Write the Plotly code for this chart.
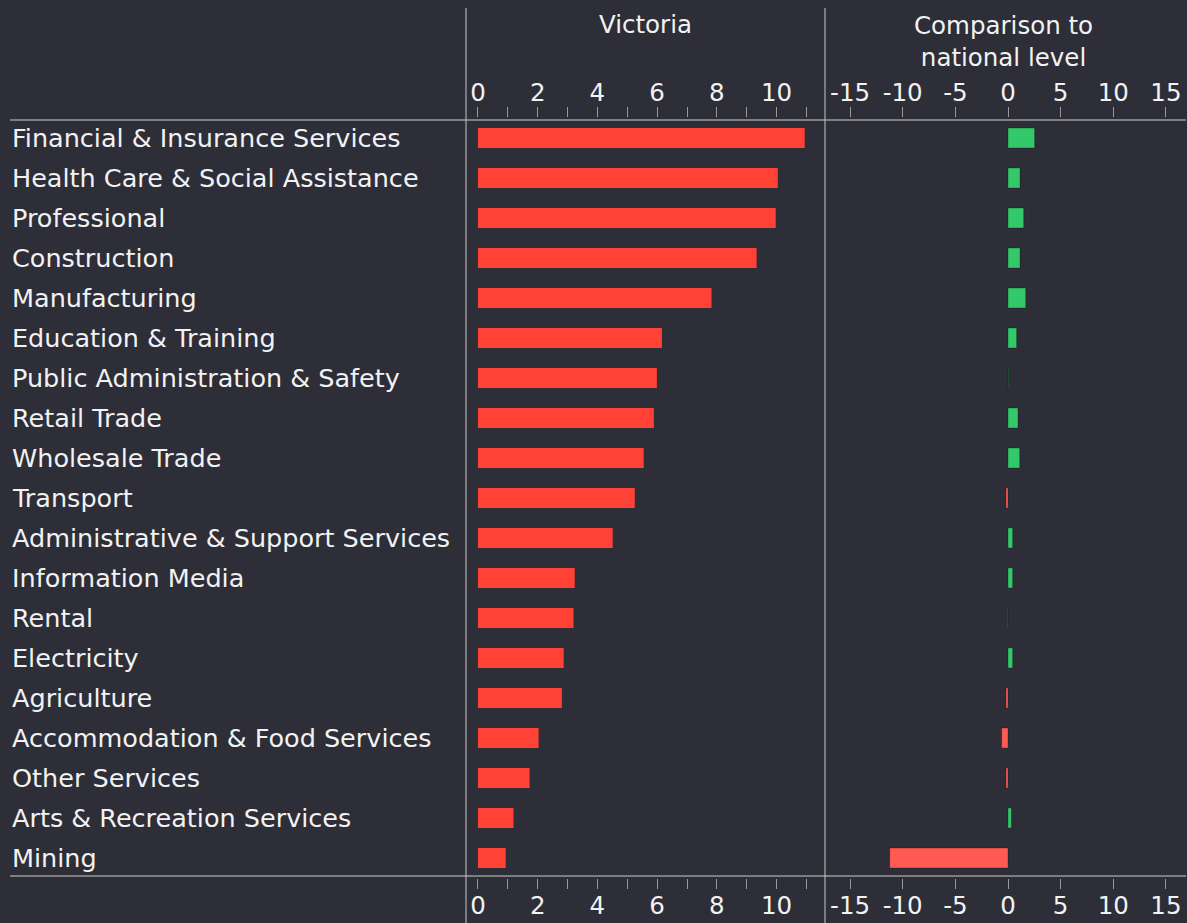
import plotly.graph_objects as go

# industries, top to bottom
industries = [
    "Financial & Insurance Services", "Health Care & Social Assistance", "Professional",
    "Construction", "Manufacturing", "Education & Training",
    "Public Administration & Safety", "Retail Trade", "Wholesale Trade", "Transport",
    "Administrative & Support Services", "Information Media", "Rental", "Electricity",
    "Agriculture", "Accommodation & Food Services", "Other Services",
    "Arts & Recreation Services", "Mining",
]
# share of employment in Victoria (%)
victoria = [10.94, 10.04, 9.97, 9.33, 7.82, 6.16, 5.99, 5.89, 5.55, 5.25,
            4.51, 3.24, 3.20, 2.87, 2.81, 2.03, 1.73, 1.19, 0.93]
# difference to national level (percentage points)
comparison = [2.53, 1.14, 1.49, 1.14, 1.68, 0.82, 0.04, 0.95, 1.11, -0.19,
              0.44, 0.44, -0.05, 0.44, -0.19, -0.6, -0.19, 0.32, -11.23]

left_vals = [0, 2, 4, 6, 8, 10]
left_text = ["0", "2", "4", "6", "8", "10"]
right_vals = [-15, -10, -5, 0, 5, 10, 15]
right_text = ["-15", "-10", "-5", "0", "5", "10", "15"]

BG = "#2d2e38"
TXT = "#f2f2f2"
RED = "#ff4136"
RED2 = "#ff5b52"
GREEN = "#33c96a"
W, H = 1187, 923
FONT = "DejaVu Sans"

def px(x):
    return x / W

def py(y):
    return 1 - y / H

comp_colors = [GREEN if v >= 0 else RED2 for v in comparison]

fig = go.Figure()
fig.add_trace(go.Bar(
    x=victoria, y=industries, orientation="h", width=0.5,
    marker=dict(color=RED, line=dict(width=0)), xaxis="x", yaxis="y",
    hoverinfo="x+y", showlegend=False,
))
fig.add_trace(go.Bar(
    x=comparison, y=industries, orientation="h", width=0.5,
    marker=dict(color=comp_colors, line=dict(color="rgba(0,0,0,0.25)", width=1)),
    xaxis="x2", yaxis="y", hoverinfo="x+y", showlegend=False,
))

tickfont = dict(family=FONT, size=24.5, color=TXT)
left_dom = [px(466), px(825)]
right_dom = [px(825), px(1185)]
left_rng = [-0.4, 11.62]
right_rng = [-17.38, 16.81]

common = dict(showgrid=False, zeroline=False, showline=False, ticks="outside",
              ticklen=10, tickwidth=1, tickcolor="#9a9a9a", tickfont=tickfont,
              ticklabelstandoff=-4, fixedrange=True)
minor = dict(dtick=1, tick0=0, ticks="outside", ticklen=10, tickcolor="#9a9a9a")

fig.update_layout(
    width=W, height=H,
    paper_bgcolor=BG, plot_bgcolor=BG,
    margin=dict(l=0, r=0, t=0, b=0),
    font=dict(family=FONT, color=TXT),
    xaxis=dict(domain=left_dom, range=left_rng, anchor="y", side="bottom",
               tickvals=left_vals, ticktext=left_text, minor=minor, **common),
    xaxis3=dict(domain=left_dom, range=left_rng, anchor="y", side="top",
                overlaying="x", tickvals=left_vals, ticktext=left_text,
                minor=minor, **common),
    xaxis2=dict(domain=right_dom, range=right_rng, anchor="y", side="bottom",
                tickvals=right_vals, ticktext=right_text, **common),
    xaxis4=dict(domain=right_dom, range=right_rng, anchor="y", side="top",
                overlaying="x2", tickvals=right_vals, ticktext=right_text, **common),
    yaxis=dict(domain=[py(878), py(118)], range=[18.5, -0.5], type="category",
               categoryorder="array", categoryarray=industries,
               showticklabels=False, showgrid=False, zeroline=False, fixedrange=True),
)

# dummy traces so the top axes are drawn
fig.add_trace(go.Scatter(x=[None], y=[industries[0]], xaxis="x3", yaxis="y",
                         showlegend=False, hoverinfo="skip"))
fig.add_trace(go.Scatter(x=[None], y=[industries[0]], xaxis="x4", yaxis="y",
                         showlegend=False, hoverinfo="skip"))

# industry labels
for name in industries:
    fig.add_annotation(x=px(10), y=name, xref="paper", yref="y", text=name,
                       xanchor="left", yanchor="middle", showarrow=False,
                       font=dict(family=FONT, size=25.5, color=TXT))

# panel titles
fig.add_annotation(x=(left_dom[0] + left_dom[1]) / 2, y=py(25), xref="paper", yref="paper",
                   text="Victoria", showarrow=False, xanchor="center", yanchor="middle",
                   font=dict(family=FONT, size=24.5, color=TXT))
fig.add_annotation(x=px(1004), y=py(42), xref="paper", yref="paper",
                   text="Comparison to<br>national level", showarrow=False,
                   xanchor="center", yanchor="middle",
                   font=dict(family=FONT, size=24.5, color=TXT))

# frame lines
for yy in (120, 876):
    fig.add_shape(type="line", xref="paper", yref="paper", x0=px(10), x1=px(1186),
                  y0=py(yy), y1=py(yy), line=dict(color="#7f7f7f", width=2), layer="below")
for xx in (466, 825):
    fig.add_shape(type="line", xref="paper", yref="paper", x0=px(xx), x1=px(xx),
                  y0=py(8), y1=0, line=dict(color="#c8c8c8", width=1))

fig.write_html("out.html", config={"displayModeBar": False},
               post_script="document.body.style.margin='0';"
               "document.body.style.background='%s';document.body.style.overflow='hidden';" % BG)
